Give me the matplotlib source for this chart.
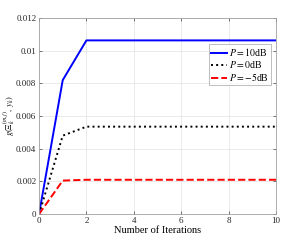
import matplotlib
matplotlib.use("Agg")
import matplotlib.pyplot as plt

# data
iters = list(range(0, 11))
g_10db = [0, 0.0082, 0.01063, 0.01063, 0.01063, 0.01063, 0.01063, 0.01063, 0.01063, 0.01063, 0.01063]
g_0db = [0, 0.0048, 0.00535, 0.00535, 0.00535, 0.00535, 0.00535, 0.00535, 0.00535, 0.00535, 0.00535]
g_m5db = [0, 0.00205, 0.0021, 0.0021, 0.0021, 0.0021, 0.0021, 0.0021, 0.0021, 0.0021, 0.0021]

plt.rcParams['font.family'] = ['Liberation Serif', 'DejaVu Serif']
plt.rcParams['mathtext.fontset'] = 'stix'

fig = plt.figure(figsize=(3.05, 2.40), dpi=100)
ax = fig.add_axes([0.128, 0.108, 0.777, 0.817])

ax.plot(iters, g_10db, color='#0000ff', lw=1.4, label='$P = 10$dB')
ax.plot(iters, g_0db, color='black', lw=1.4, ls=':', label='$P = 0$dB')
ax.plot(iters, g_m5db, color='#ff0000', lw=1.4, ls='--', label='$P = -5$dB')

ax.set_xlim(0, 10)
ax.set_ylim(0, 0.012)
ax.set_xticks([0, 2, 4, 6, 8, 10])
ax.set_yticks([0, 0.002, 0.004, 0.006, 0.008, 0.01, 0.012])
ax.set_yticklabels(['0', '0.002', '0.004', '0.006', '0.008', '0.01', '0.012'])
ax.grid(True, color='#e6e6e6', lw=0.6)
ax.tick_params(direction='in', labelsize=6.5, length=2.5, top=True, right=True,
               colors='#404040', labelcolor='#262626', width=0.5, pad=2)
for s in ax.spines.values():
    s.set_color('#a0a0a0')
    s.set_linewidth(0.6)

ax.set_xlabel('Number of Iterations', fontsize=7.5, labelpad=1)
ax.set_ylabel(r'$g(\Xi_k^{(m,j)},\, y_k)$', fontsize=6, va='center')
ax.yaxis.set_label_coords(-0.128, 0.5)

leg = ax.legend(loc='upper right', bbox_to_anchor=(0.985, 0.875), fontsize=7, frameon=True,
                fancybox=False, handlelength=1.6, handletextpad=0.2, borderpad=0.2,
                labelspacing=0.1, borderaxespad=0.2)
leg.get_frame().set_edgecolor('#a0a0a0')
leg.get_frame().set_linewidth(0.6)

fig.savefig('out.png', dpi=100)
